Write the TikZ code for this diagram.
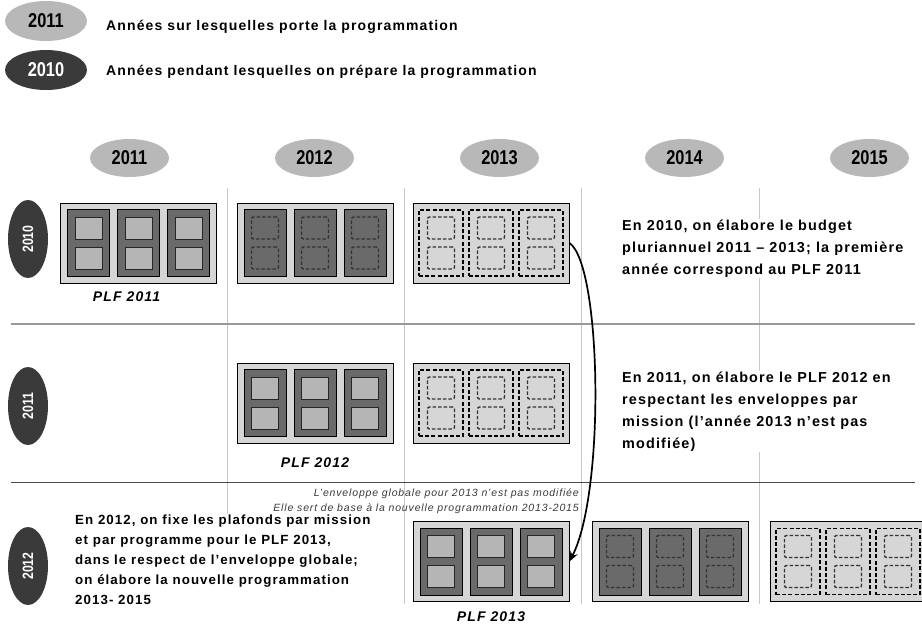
\documentclass[tikz,border=0pt]{standalone}
\usepackage{fontspec}
\setmainfont{Liberation Sans}[LetterSpace=8]
\newfontfamily\anfont{Liberation Sans}[FakeStretch=0.82]
\usetikzlibrary{arrows.meta,positioning,shapes.geometric}

\definecolor{plaquegris}{HTML}{D6D6D6}
\definecolor{foncegris}{HTML}{6A6A6A}
\definecolor{clairgris}{HTML}{B5B5B5}
\definecolor{ovalgris}{HTML}{B8B8B8}
\definecolor{ovalnoir}{HTML}{3A3A3A}
\definecolor{lignegris}{HTML}{C8C8C8}

% one block of the programme: plate, three cells, two squares per cell
\newcommand{\bloc}[4]{%
  \node[plaque] (#1) at (#2) {};
  \foreach \k in {-1,0,1}{
    \node[#3] (#1c\k) at ([xshift=\k*50pt]#1.center) {};
    \node[#4] (#1h\k) at ([yshift=15pt]#1c\k.center) {};
    \node[#4] (#1b\k) at ([yshift=-15pt]#1c\k.center) {};
  }%
}

\begin{document}
\begin{tikzpicture}[x=1pt,y=-1pt,
  every node/.style={inner sep=0pt},
  plaque/.style={draw,fill=plaquegris,line width=1pt,minimum width=156pt,minimum height=80pt},
  case/.style={draw,fill=foncegris,line width=0.9pt,minimum width=42pt,minimum height=67pt},
  casept/.style={draw,dash pattern=on 4pt off 2.2pt,line width=1.8pt,minimum width=44pt,minimum height=66pt},
  carre/.style={draw=black!85,fill=clairgris,line width=1pt,minimum width=27pt,minimum height=22pt},
  carrept/.style={draw=black!80,dash pattern=on 3.5pt off 2pt,rounded corners=2pt,line width=1.4pt,minimum width=27pt,minimum height=22pt},
  an/.style={ellipse,fill=ovalgris,minimum width=79pt,minimum height=38pt,font=\anfont\bfseries\fontsize{20}{20}\selectfont},
  leg/.style={ellipse,fill=ovalgris,minimum width=82pt,minimum height=40pt,font=\anfont\bfseries\fontsize{20}{20}\selectfont},
  rang/.style={ellipse,fill=ovalnoir,text=white,rotate=90,minimum width=78pt,minimum height=40pt,font=\anfont\bfseries\fontsize{15}{15}\selectfont},
  legtxt/.style={font=\bfseries\fontsize{14}{14}\selectfont},
  txt/.style={fill=white,align=left,inner sep=1pt,font=\bfseries\fontsize{14.4}{21.8}\selectfont},
  note/.style={align=right,text=ovalnoir,font=\itshape\fontsize{10.5}{14.5}\selectfont},
  plf/.style={font=\bfseries\itshape\fontsize{14}{14}\selectfont},
  vert/.style={draw=lignegris,line width=1pt},
  fleche/.style={-{Stealth[length=10pt,width=8pt]},line width=1.7pt}]
\useasboundingbox (0,0) rectangle (922,627);

% legend
\node[leg] (lega) at (46,21) {2011};
\node[leg,fill=ovalnoir,text=white] (legb) at (46,70) {2010};
\node[legtxt,anchor=base west] (legta) at (106,30) {Années sur lesquelles porte la programmation};
\node[legtxt,anchor=base west] (legtb) at (106,75) {Années pendant lesquelles on prépare la programmation};

% grid
\foreach \x in {227,404,581,759} \draw[vert] (\x,188) -- (\x,604);
\draw[draw=gray!80,line width=1.3pt] (11,324) -- (915,324);
\draw[draw=black!70,line width=1pt] (11,482) -- (915,482);

% years
\foreach \a [count=\i] in {2011,2012,2013,2014,2015}
  \node[an] (col\a) at ({129.5+185*(\i-1)},158) {\a};
\node[rang] (r2010) at (28,239) {2010};
\node[rang] (r2011) at (28,406) {2011};
\node[rang] (r2012) at (28,566) {2012};

% blocks
\bloc{b11}{138.5,243}{case}{carre}
\bloc{b12}{315,243}{case}{carrept}
\bloc{b13}{491,243}{casept}{carrept}
\bloc{b22}{315,403}{case}{carre}
\bloc{b23}{491,403}{casept}{carrept}
\bloc{b33}{491,561.5}{case}{carre}
\bloc{b34}{670,561.5}{case}{carrept}
\bloc{b35}{848,561.5}{casept}{carrept}

\node[plf,below=8pt of b11,xshift=-12pt] (p11) {PLF 2011};
\node[plf,below=14pt of b22] (p12) {PLF 2012};
\node[plf,below=10pt of b33] (p13) {PLF 2013};

\draw[fleche] (b13.east) .. controls +(32,22) and +(36,-70) .. (b33.east);

% texts
\node[txt,anchor=north west] (t2010) at (621,219) {En 2010, on élabore le budget\\pluriannuel 2011 – 2013; la première\\année correspond au PLF 2011};
\node[txt,anchor=north west] (t2011) at (621,371) {En 2011, on élabore le PLF 2012 en\\respectant les enveloppes par\\mission (l’année 2013 n’est pas\\modifiée)};
\node[txt,anchor=north west,font=\bfseries\fontsize{13.3}{20}\selectfont] (t2012) at (74,514) {En 2012, on fixe les plafonds par mission\\et par programme pour le PLF 2013,\\dans le respect de l’enveloppe globale;\\on élabore la nouvelle programmation\\2013- 2015};
\node[note,anchor=north east] (env) at (579,489) {L’enveloppe globale pour 2013 n’est pas modifiée\\Elle sert de base à la nouvelle programmation 2013-2015};
\end{tikzpicture}
\end{document}
